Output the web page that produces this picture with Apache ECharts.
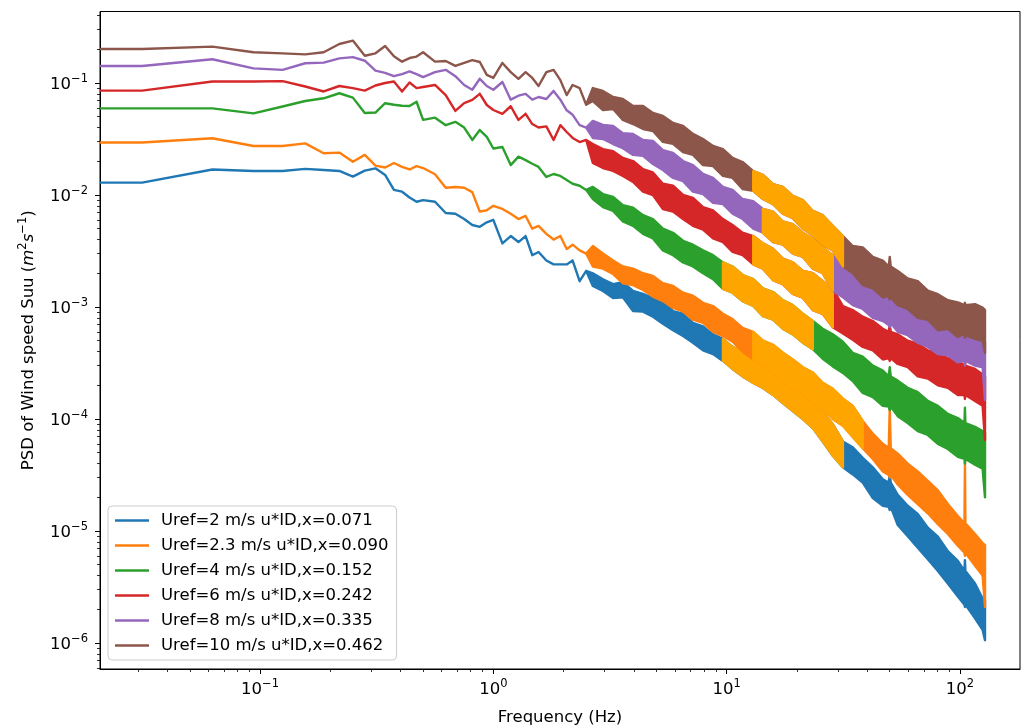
<!DOCTYPE html>
<html>
<head>
<meta charset="utf-8">
<title>PSD of wind speed Suu</title>
<script src="https://cdn.jsdelivr.net/npm/echarts@6/dist/echarts.min.js"></script>
<style>
  html, body { margin: 0; padding: 0; background: #fff; }
  #chart { width: 1029px; height: 726px; }
</style>
</head>
<body>
<div id="chart"></div>
<script>
// Frequencies (Hz) where the spectra are still thin lines
const freqLine = [0.02, 0.03125, 0.0625, 0.09375, 0.125, 0.15625, 0.1875, 0.21875, 0.25, 0.28125,
  0.3125, 0.34375, 0.375, 0.40625, 0.4375, 0.46875, 0.5, 0.5625, 0.625, 0.6875, 0.75, 0.8125,
  0.875, 0.9375, 1.0, 1.09375, 1.1875, 1.28125, 1.375, 1.46875, 1.5625, 1.6875, 1.8125, 1.9375,
  2.0625, 2.1875, 2.34375, 2.5];

// Frequencies (Hz) where the spectra become a noisy band (upper / lower envelope)
const freqBand = [2.67, 2.95, 3.26, 3.59, 3.97, 4.38, 4.83, 5.33, 5.89, 6.5, 7.17, 7.92, 8.74, 9.64,
  10.6, 11.7, 13.0, 14.3, 15.8, 17.4, 19.2, 21.2, 23.4, 25.8, 28.5, 31.5, 34.7, 38.3, 42.3, 46.7,
  49.5, 50, 50.5, 54.1, 59.7, 65.9, 72.8, 80.4, 88.7, 97.9, 104.5, 105, 105.5, 116, 125, 128];

const seriesNames = [
  'Uref=2 m/s u*ID,x=0.071',
  'Uref=2.3 m/s u*ID,x=0.090',
  'Uref=4 m/s u*ID,x=0.152',
  'Uref=6 m/s u*ID,x=0.242',
  'Uref=8 m/s u*ID,x=0.335',
  'Uref=10 m/s u*ID,x=0.462'
];
const seriesColors = ['#1f77b4', '#ff7f0e', '#2ca02c', '#d62728', '#9467bd', '#8c564b'];
const fitColor = '#ffa500';

// Uref = 2 m/s
const blueLine = [0.0129, 0.0129, 0.0169, 0.0164, 0.0164, 0.0171, 0.0167, 0.0164, 0.0146, 0.0165,
  0.0173, 0.0151, 0.0111, 0.0107, 0.0095, 0.0087, 0.0090, 0.0087, 0.0069, 0.0068, 0.0061, 0.0054,
  0.0052, 0.0057, 0.0060, 0.0037, 0.0043, 0.0038, 0.0043, 0.0029, 0.0031, 0.0026, 0.0024, 0.0024,
  0.0024, 0.0026, 0.0017, 0.0021];
const blueHi = [0.0020, 0.00177, 0.00160, 0.00167, 0.00139, 0.00131, 0.00120, 0.00113, 0.00092, 0.00087,
  0.00072, 0.00067, 0.00057, 0.00052, 0.00044, 0.00040, 0.00034, 0.00031, 0.00027, 0.00024,
  0.00020, 0.000182, 0.000145, 0.000117, 0.000090, 0.000063, 0.000056, 0.000045, 0.000037, 0.000029,
  0.000027, 0.000033, 0.000027, 0.000021, 0.0000168, 0.0000142, 0.0000107, 0.0000089, 0.0000066, 0.0000054,
  0.0000044, 0.0000055, 0.0000044, 0.0000034, 0.0000025, 0.0000024];
const blueLo = [0.00154, 0.00139, 0.00120, 0.00122, 0.00092, 0.00091, 0.00082, 0.00071, 0.00062, 0.00055,
  0.00048, 0.00041, 0.00038, 0.00033, 0.00028, 0.00024, 0.00021, 0.000189, 0.000164, 0.000139,
  0.000118, 0.000100, 0.000083, 0.000063, 0.000047, 0.000037, 0.000032, 0.000027, 0.0000197, 0.0000168,
  0.0000164, 0.0000154, 0.0000164, 0.0000113, 0.0000090, 0.0000071, 0.0000056, 0.0000044, 0.0000034, 0.0000026,
  0.0000022, 0.0000021, 0.0000022, 0.00000166, 0.00000131, 0.00000106];

// Uref = 2.3 m/s
const orangeLine = [0.0294, 0.0294, 0.0321, 0.0274, 0.0274, 0.0289, 0.0236, 0.0239, 0.0198, 0.0228,
  0.0183, 0.0176, 0.0193, 0.0178, 0.0169, 0.0181, 0.0174, 0.0153, 0.0116, 0.0118, 0.0116, 0.0106,
  0.0071, 0.0073, 0.0080, 0.0075, 0.0068, 0.0061, 0.0065, 0.0050, 0.0053, 0.0045, 0.0040, 0.0043,
  0.0033, 0.0036, 0.0032, 0.0030];
const orangeHi = [0.0035, 0.0030, 0.0026, 0.0023, 0.0022, 0.0020, 0.00189, 0.00163, 0.00154, 0.00134,
  0.00126, 0.00109, 0.00102, 0.00087, 0.00078, 0.00065, 0.00060, 0.00050, 0.00046, 0.00039,
  0.00034, 0.00029, 0.00026, 0.00021, 0.000186, 0.000152, 0.000131, 0.000096, 0.000074, 0.000060,
  0.000055, 0.000126, 0.000055, 0.000049, 0.000040, 0.000034, 0.000028, 0.000023, 0.0000174, 0.0000136,
  0.0000117, 0.000041, 0.0000117, 0.0000094, 0.0000078, 0.0000075];
const orangeLo = [0.0023, 0.0022, 0.00197, 0.00163, 0.00157, 0.00142, 0.00124, 0.00113, 0.00098, 0.00091,
  0.00077, 0.00072, 0.00060, 0.00055, 0.00049, 0.00040, 0.00034, 0.00031, 0.00026, 0.00022,
  0.000186, 0.000169, 0.000141, 0.000125, 0.000100, 0.000087, 0.000069, 0.000055, 0.000044, 0.000034,
  0.0000316, 0.0000300, 0.0000316, 0.000026, 0.000021, 0.0000174, 0.0000144, 0.0000115, 0.0000094, 0.0000074,
  0.0000064, 0.0000060, 0.0000064, 0.0000049, 0.0000040, 0.0000021];

// Uref = 4 m/s
const greenLine = [0.0594, 0.0594, 0.0594, 0.0536, 0.0617, 0.069, 0.073, 0.081, 0.074, 0.054,
  0.0545, 0.066, 0.064, 0.0627, 0.0623, 0.068, 0.0468, 0.049, 0.042, 0.045, 0.040, 0.031,
  0.038, 0.033, 0.026, 0.0268, 0.0185, 0.022, 0.0205, 0.019, 0.0178, 0.0145, 0.0154, 0.0148,
  0.0136, 0.0126, 0.0121, 0.0111];
const greenHi = [0.0118, 0.0102, 0.0096, 0.0081, 0.0077, 0.0066, 0.0061, 0.0050, 0.0046, 0.0039,
  0.0036, 0.0032, 0.0029, 0.0025, 0.0023, 0.00193, 0.00177, 0.00147, 0.00136, 0.00115,
  0.00104, 0.00087, 0.00075, 0.00064, 0.00057, 0.00049, 0.00039, 0.00036, 0.00030, 0.00027,
  0.00024, 0.00029, 0.00024, 0.00022, 0.00019, 0.000174, 0.000145, 0.000131, 0.000111, 0.000102,
  0.000092, 0.000126, 0.000092, 0.000085, 0.000078, 0.000075];
const greenLo = [0.0092, 0.0078, 0.0072, 0.0058, 0.0053, 0.0045, 0.0041, 0.0032, 0.0029, 0.0025,
  0.0023, 0.0020, 0.00177, 0.00145, 0.00134, 0.00113, 0.00102, 0.00083, 0.00077, 0.00064,
  0.00057, 0.00048, 0.00042, 0.000345, 0.000295, 0.000258, 0.000218, 0.000171, 0.000157, 0.000131,
  0.000129, 0.000120, 0.000129, 0.000106, 0.000092, 0.000078, 0.000072, 0.000060, 0.000054, 0.000046,
  0.000044, 0.000040, 0.000044, 0.000039, 0.000036, 0.000020];

// Uref = 6 m/s
const redLine = [0.0855, 0.0855, 0.103, 0.103, 0.104, 0.093, 0.084, 0.094, 0.090, 0.0855,
  0.095, 0.100, 0.103, 0.084, 0.101, 0.090, 0.092, 0.096, 0.078, 0.0563, 0.066, 0.0706,
  0.080, 0.0636, 0.0574, 0.053, 0.062, 0.0468, 0.053, 0.043, 0.040, 0.041, 0.031, 0.042,
  0.0365, 0.0323, 0.0297, 0.031];
const redHi = [0.0285, 0.0257, 0.0246, 0.0214, 0.0201, 0.0170, 0.0159, 0.0126, 0.0121, 0.0100,
  0.0094, 0.0078, 0.0073, 0.0061, 0.0054, 0.0046, 0.0043, 0.0037, 0.0033, 0.0027,
  0.0025, 0.0021, 0.0020, 0.0017, 0.00145, 0.00102, 0.00094, 0.00082, 0.00075, 0.00064,
  0.00060, 0.00071, 0.00060, 0.00057, 0.00050, 0.00047, 0.00041, 0.00039, 0.00035, 0.00033,
  0.00030, 0.00032, 0.00030, 0.00028, 0.00025, 0.00024];
const redLo = [0.0193, 0.0174, 0.0164, 0.0148, 0.0131, 0.0107, 0.0100, 0.0075, 0.0071, 0.0061,
  0.0053, 0.0049, 0.0041, 0.0038, 0.0031, 0.0029, 0.0024, 0.0022, 0.00174, 0.00160,
  0.00131, 0.00121, 0.00094, 0.00087, 0.00066, 0.00058, 0.00051, 0.00044, 0.00041, 0.00034,
  0.00035, 0.00033, 0.00035, 0.00031, 0.00029, 0.00024, 0.00023, 0.00020, 0.00019, 0.000164,
  0.000164, 0.000151, 0.000164, 0.000145, 0.000131, 0.000065];

// Uref = 8 m/s
const purpleLine = [0.142, 0.142, 0.163, 0.135, 0.131, 0.150, 0.152, 0.166, 0.170, 0.158,
  0.129, 0.123, 0.115, 0.120, 0.127, 0.120, 0.113, 0.125, 0.131, 0.115, 0.096, 0.087,
  0.109, 0.094, 0.087, 0.102, 0.071, 0.077, 0.080, 0.071, 0.075, 0.072, 0.085, 0.071,
  0.057, 0.052, 0.042, 0.040];
const purpleHi = [0.0458, 0.0422, 0.0414, 0.0357, 0.0350, 0.0310, 0.0304, 0.0252, 0.0237, 0.0201,
  0.0185, 0.0154, 0.0142, 0.0118, 0.0111, 0.0092, 0.0088, 0.0075, 0.0071, 0.0058,
  0.0055, 0.0046, 0.0041, 0.0034, 0.0029, 0.0022, 0.0019, 0.0018, 0.0015, 0.00142,
  0.00128, 0.00148, 0.00128, 0.00117, 0.00102, 0.00098, 0.00083, 0.00078, 0.00066, 0.00065,
  0.00057, 0.00062, 0.00057, 0.00055, 0.00052, 0.00048];
const purpleLo = [0.0323, 0.0316, 0.0285, 0.0262, 0.0228, 0.0224, 0.0189, 0.0167, 0.0142, 0.0133,
  0.0107, 0.0102, 0.0085, 0.0083, 0.0068, 0.0061, 0.0050, 0.0046, 0.0038, 0.0036,
  0.0030, 0.0028, 0.0022, 0.0020, 0.0014, 0.00122, 0.00104, 0.00096, 0.00080, 0.00075,
  0.00069, 0.00066, 0.00072, 0.00060, 0.00056, 0.00048, 0.00044, 0.00038, 0.00037, 0.00032,
  0.00033, 0.00030, 0.00033, 0.00030, 0.00029, 0.000148];

// Uref = 10 m/s
const brownLine = [0.201, 0.201, 0.211, 0.188, 0.184, 0.180, 0.188, 0.223, 0.239, 0.175,
  0.184, 0.214, 0.173, 0.155, 0.167, 0.172, 0.188, 0.155, 0.157, 0.142, 0.151, 0.160,
  0.154, 0.118, 0.111, 0.151, 0.125, 0.109, 0.125, 0.111, 0.094, 0.125, 0.131, 0.106,
  0.078, 0.096, 0.090, 0.064];
const brownHi = [0.0901, 0.0849, 0.0751, 0.0720, 0.0623, 0.0623, 0.0540, 0.0508, 0.0440, 0.0414,
  0.0351, 0.0316, 0.0274, 0.0257, 0.0214, 0.0197, 0.0163, 0.0151, 0.0125, 0.0118,
  0.0098, 0.0090, 0.0072, 0.0066, 0.0053, 0.0043, 0.0035, 0.0034, 0.0028, 0.0026,
  0.0023, 0.0028, 0.0023, 0.0021, 0.0018, 0.0017, 0.0014, 0.0013, 0.00115, 0.0011,
  0.00104, 0.00109, 0.00104, 0.00106, 0.00099, 0.00094];
const brownLo = [0.0690, 0.0574, 0.0586, 0.0468, 0.0430, 0.0388, 0.0373, 0.0298, 0.0286, 0.0242,
  0.0228, 0.0185, 0.0181, 0.0148, 0.0142, 0.0113, 0.0109, 0.0092, 0.0083, 0.0068,
  0.0062, 0.0050, 0.0044, 0.0036, 0.0032, 0.0023, 0.0020, 0.00157, 0.00147, 0.00122,
  0.00125, 0.00117, 0.00122, 0.00104, 0.00096, 0.00080, 0.00077, 0.00062, 0.00064, 0.00054,
  0.00058, 0.00053, 0.00056, 0.00052, 0.00050, 0.00039];

// frequency range (Hz) redrawn in orange on each spectrum
const fitRanges = [[9.64, 31.5], [13.0, 38.3], [9.64, 23.4], [13.0, 28.5], [14.3, 28.5], [13.0, 31.5]];

// axis ticks
const xMajorTicks = [0.1, 1, 10, 100];
const xMinorTicks = [0.03, 0.04, 0.05, 0.06, 0.07, 0.08, 0.09, 0.2, 0.3, 0.4, 0.5, 0.6, 0.7, 0.8, 0.9,
  2, 3, 4, 5, 6, 7, 8, 9, 20, 30, 40, 50, 60, 70, 80, 90];
const yMajorTicks = [1e-6, 1e-5, 1e-4, 1e-3, 1e-2, 1e-1];
const yMinorTicks = [6e-7, 7e-7, 8e-7, 9e-7,
  2e-6, 3e-6, 4e-6, 5e-6, 6e-6, 7e-6, 8e-6, 9e-6,
  2e-5, 3e-5, 4e-5, 5e-5, 6e-5, 7e-5, 8e-5, 9e-5,
  2e-4, 3e-4, 4e-4, 5e-4, 6e-4, 7e-4, 8e-4, 9e-4,
  2e-3, 3e-3, 4e-3, 5e-3, 6e-3, 7e-3, 8e-3, 9e-3,
  0.02, 0.03, 0.04, 0.05, 0.06, 0.07, 0.08, 0.09, 0.2, 0.3, 0.4];

const xMin = 0.02062, xMax = 180.8;
const yMin = 5.86e-7, yMax = 0.4348;

const FONT = 'DejaVu Sans';
const LINE_W = 2.4;

const spectra = [
  [blueLine, blueLo, blueHi],
  [orangeLine, orangeLo, orangeHi],
  [greenLine, greenLo, greenHi],
  [redLine, redLo, redHi],
  [purpleLine, purpleLo, purpleHi],
  [brownLine, brownLo, brownHi]
];

// rows of [freq, lower, upper]; on the line part lower == upper
function buildRows(line, lo, hi) {
  const rows = freqLine.map((f, i) => [f, line[i], line[i]]);
  freqBand.forEach((f, i) => rows.push([f, lo[i], hi[i]]));
  return rows;
}

// draws the whole spectrum as one outline: upper edge forward, lower edge back
function bandRenderer(rows, color) {
  return function (params, api) {
    if (params.dataIndex !== 0) return null;
    const upper = rows.map(r => api.coord([r[0], r[2]]));
    const lower = rows.map(r => api.coord([r[0], r[1]])).reverse();
    return {
      type: 'polygon',
      shape: { points: upper.concat(lower) },
      style: { fill: color, stroke: color, lineWidth: LINE_W, lineJoin: 'round' }
    };
  };
}

function powerLabel(value) {
  const exp = Math.round(Math.log10(value));
  return '{base|10}{sup|' + String(exp).replace('-', '\u2212') + '}';
}

const powerRich = {
  base: { fontFamily: FONT, fontSize: 16.5, color: '#000', lineHeight: 20, verticalAlign: 'bottom' },
  sup: { fontFamily: FONT, fontSize: 11.5, color: '#000', lineHeight: 14, verticalAlign: 'top' }
};

const series = [];
spectra.forEach(([line, lo, hi], i) => {
  const rows = buildRows(line, lo, hi);
  series.push({
    type: 'custom',
    name: seriesNames[i],
    xAxisIndex: 0,
    yAxisIndex: 0,
    clip: true,
    silent: true,
    itemStyle: { color: seriesColors[i] },
    data: rows,
    renderItem: bandRenderer(rows, seriesColors[i])
  });
  const [f0, f1] = fitRanges[i];
  const fitRows = rows.filter(r => r[0] >= f0 && r[0] <= f1);
  series.push({
    type: 'custom',
    name: 'fit ' + i,
    xAxisIndex: 0,
    yAxisIndex: 0,
    clip: true,
    silent: true,
    itemStyle: { color: fitColor },
    data: fitRows,
    renderItem: bandRenderer(fitRows, fitColor)
  });
});

const chart = echarts.init(document.getElementById('chart'), null, { renderer: 'canvas' });

chart.setOption({
  animation: false,
  backgroundColor: '#fff',
  grid: {
    left: 100, right: 9, top: 11.5, bottom: 57,
    outerBoundsMode: 'none',
    show: true, borderColor: '#000', borderWidth: 1
  },
  legend: {
    data: seriesNames,
    orient: 'vertical',
    left: 108,
    top: 506,
    icon: 'rect',
    itemWidth: 34,
    itemHeight: 2.5,
    itemGap: 8,
    padding: [6, 8, 6, 7],
    backgroundColor: 'rgba(255,255,255,0.8)',
    borderColor: '#cccccc',
    borderWidth: 1,
    borderRadius: 4,
    selectedMode: false,
    textStyle: { fontFamily: FONT, fontSize: 16.5, color: '#000', lineHeight: 17, padding: [0, 0, 0, 7] }
  },
  xAxis: [
    {
      type: 'log', logBase: 10, min: xMin, max: xMax, position: 'bottom',
      name: 'Frequency (Hz)', nameLocation: 'middle', nameGap: 40,
      nameTextStyle: { fontFamily: FONT, fontSize: 16.5, color: '#000' },
      axisLine: { show: true, lineStyle: { color: '#000', width: 1 } },
      axisTick: { show: true, customValues: xMajorTicks, length: 5, lineStyle: { color: '#000', width: 1 } },
      axisLabel: { customValues: xMajorTicks, formatter: powerLabel, margin: 9, rich: powerRich },
      splitLine: { show: false }
    },
    {
      type: 'log', logBase: 10, min: xMin, max: xMax, position: 'bottom',
      axisLine: { show: false },
      axisTick: { show: true, customValues: xMinorTicks, length: 3, lineStyle: { color: '#000', width: 0.8 } },
      axisLabel: { show: false },
      splitLine: { show: false }
    }
  ],
  yAxis: [
    {
      type: 'log', logBase: 10, min: yMin, max: yMax, position: 'left',
      name: '{t|PSD of Wind speed Suu (}{it|m}{sup|2}{it|s}{sup|\u22121}{t|)}',
      nameLocation: 'middle', nameGap: 63, nameRotate: 90,
      nameTextStyle: {
        fontFamily: FONT, fontSize: 16.5, color: '#000',
        rich: {
          t: { fontFamily: FONT, fontSize: 16.5, color: '#000', lineHeight: 20, verticalAlign: 'bottom' },
          it: { fontFamily: FONT, fontSize: 16.5, fontStyle: 'italic', color: '#000', lineHeight: 20, verticalAlign: 'bottom' },
          sup: { fontFamily: FONT, fontSize: 11.5, color: '#000', lineHeight: 14, verticalAlign: 'top' }
        }
      },
      axisLine: { show: true, lineStyle: { color: '#000', width: 1 } },
      axisTick: { show: true, customValues: yMajorTicks, length: 5, lineStyle: { color: '#000', width: 1 } },
      axisLabel: { customValues: yMajorTicks, formatter: powerLabel, margin: 12, rich: powerRich },
      splitLine: { show: false }
    },
    {
      type: 'log', logBase: 10, min: yMin, max: yMax, position: 'left',
      axisLine: { show: false },
      axisTick: { show: true, customValues: yMinorTicks, length: 3, lineStyle: { color: '#000', width: 0.8 } },
      axisLabel: { show: false },
      splitLine: { show: false }
    }
  ],
  series: series
});
</script>
</body>
</html>
